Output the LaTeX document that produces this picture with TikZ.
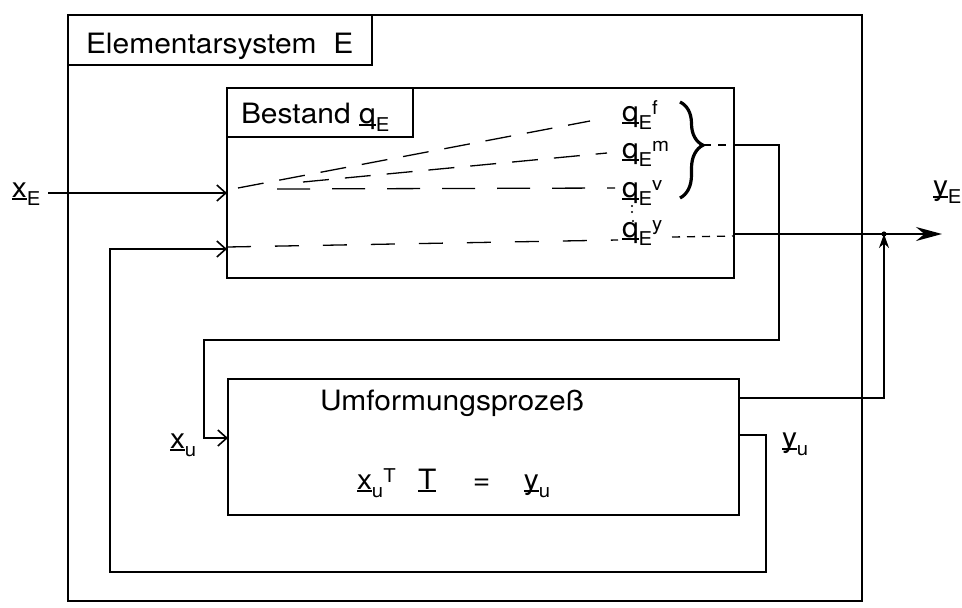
\documentclass[tikz,border=0pt]{standalone}
\usepackage{fontspec}
\setmainfont{TeX Gyre Heros}[FakeStretch=1.07]
\usetikzlibrary{arrows.meta,decorations.pathreplacing}
\newcommand{\uln}[1]{\leavevmode\setbox0\hbox{#1}\rlap{\rule[-0.1em]{\wd0}{1.4pt}}#1}
\newcommand{\lsub}[1]{\raisebox{-0.3em}{\fontsize{19}{19}\selectfont #1}}
\newcommand{\lsup}[1]{\raisebox{0.22em}{\fontsize{19}{19}\selectfont #1}}
\begin{document}
\begin{tikzpicture}[x=1pt,y=-1pt,
  font=\fontsize{28}{32}\selectfont,
  line width=1.6pt,
  box/.style={draw, line width=1.8pt, inner sep=0pt, outer sep=0pt, anchor=north west},
  lbl/.style={inner sep=0pt, outer sep=0pt, anchor=base west},
  conn/.style={line width=1.5pt},
  inarrow/.style={-{Straight Barb[length=9pt,width=16pt,line width=1.6pt]}},
  bigarrow/.style={-{Stealth[length=26pt,width=14pt]}},
  smallarrow/.style={-{Stealth[length=14pt,width=10pt]}},
  dl/.style={line width=1.3pt, dash pattern=on 26pt off 16pt},
  dlv/.style={line width=1.3pt, dash pattern=on 33pt off 22pt},
  dly/.style={line width=1.3pt, dash pattern=on 24pt off 24pt},
  dshort/.style={line width=1.3pt, dash pattern=on 8pt off 7pt}]
\useasboundingbox (0,0) rectangle (962,608);

% boxes
\node[box, minimum width=794pt, minimum height=586pt] (outer) at (68,15) {};
\node[box, minimum width=304pt, minimum height=50pt] (etitle) at (68,15) {};
\node[lbl] (etext) at (86,53) {Elementarsystem\ \ E};
\node[box, minimum width=507pt, minimum height=190pt] (bestand) at (227,88) {};
\node[box, minimum width=186pt, minimum height=49pt] (btitle) at (227,88) {};
\node[lbl] (btext) at (241,123) {Bestand \uln{q}\lsub{E}};
\node[box, minimum width=511pt, minimum height=136pt] (umf) at (228,379) {};
\node[lbl] (umftext) at (320,410) {Umformungsprozeß};
\node[lbl] (eq) at (357,489) {\uln{x}\lsub{u}\lsup{T}\hspace{0.8em}\uln{T}\hspace{1.3em}=\hspace{1.2em}\uln{y}\lsub{u}};

% outside labels
\node[lbl] (xE) at (12,197) {\uln{x}\lsub{E}};
\node[lbl] (yE) at (933,195) {\uln{y}\lsub{E}};
\node[lbl] (xu) at (170,448) {\uln{x}\lsub{u}};
\node[lbl] (yu) at (782,447) {\uln{y}\lsub{u}};

% q labels
\node[lbl] (qf) at (622,121) {\uln{q}\lsub{E}\lsup{f}};
\node[lbl] (qm) at (622,158) {\uln{q}\lsub{E}\lsup{m}};
\node[lbl] (qv) at (622,197) {\uln{q}\lsub{E}\lsup{v}};
\node[lbl] (qy) at (622,237) {\uln{q}\lsub{E}\lsup{y}};
\fill (632,206) circle (1.2pt) (632,212) circle (1.2pt) (633,221) circle (1.2pt);

% dashed internal lines
\draw[dl] (238,188) -- (590,121);
\draw[dl] (303,182) -- (607,153);
\draw[dlv] (277,189) -- (615,188);
\draw[dly] (bestand.west |- 0,247) -- (618,240);
\draw[dshort] (672,237) -- (bestand.east |- 0,236);

% brace
\draw[line width=3.2pt, decorate, decoration={brace, amplitude=23pt, aspect=0.45}] (680,102) -- (680,198);
\coordinate (bt) at (703,145);
\draw[dshort] (bt) -- (bt -| bestand.east);

% x_E input
\coordinate (xEtail) at (48,193);
\draw[conn, inarrow] (xEtail) -- (xEtail -| bestand.west);

% y_u feedback loop
\coordinate (c1) at (766,435);
\coordinate (c2) at (766,572);
\coordinate (c3) at (110,572);
\coordinate (c4) at (110,249);
\draw[conn, inarrow] (umf.east |- c1) -- (c1) -- (c2) -- (c3) -- (c4) -- (c4 -| bestand.west);

% top loop into Umformungsprozess
\coordinate (d1) at (779,145);
\coordinate (d2) at (779,340);
\coordinate (d3) at (204,340);
\coordinate (d4) at (204,438);
\draw[conn, inarrow] (bt -| bestand.east) -- (d1) -- (d2) -- (d3) -- (d4) -- (d4 -| umf.west);

% output y_E
\coordinate (yEtip) at (942,234);
\coordinate (junc) at (884,234);
\coordinate (e1) at (884,398);
\draw[conn, bigarrow] (yEtip -| bestand.east) -- (yEtip);
\fill (junc) circle (2.6pt);
\draw[conn, smallarrow] (umf.east |- e1) -- (e1) -- (junc);
\end{tikzpicture}
\end{document}
